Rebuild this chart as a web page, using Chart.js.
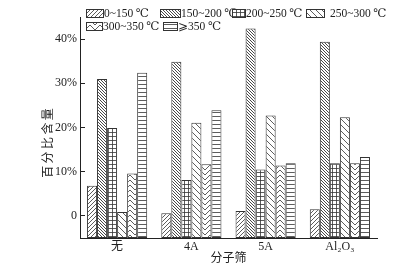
<!DOCTYPE html>
<html><head><meta charset="utf-8">
<script src="https://cdn.jsdelivr.net/npm/chart.js@4/dist/chart.umd.min.js"></script>
<style>html,body{margin:0;padding:0;background:#fff}#wrap{width:404px;height:266px}</style>
</head><body><div id="wrap"><canvas id="c" width="404" height="266"></canvas></div>
<script>
const categories = ['无', '4A', '5A', 'Al₂O₃'];
const seriesLabels = ['0~150 ℃', '150~200 ℃', '200~250 ℃', '250~300 ℃', '300~350 ℃', '⩾350 ℃'];
const s0_150 = [6.8, 0.6, 1.1, 1.5];
const s150_200 = [31.0, 34.9, 42.4, 39.4];
const s200_250 = [19.9, 8.1, 10.5, 11.9];
const s250_300 = [0.9, 21.1, 22.7, 22.3];
const s300_350 = [9.6, 11.7, 11.4, 11.9];
const s350 = [32.4, 23.9, 11.9, 13.3];
const yTicks = [0, 10, 20, 30, 40];
const yTickLabels = ['0', '10%', '20%', '30%', '40%'];
const xTitle = '分子筛';
const yTitle = '百分比含量';

const INK = '#333';
const SERIF = '"Liberation Serif", "DejaVu Serif", "Noto Sans CJK SC", serif';

function makePattern(kind) {
  const c = document.createElement('canvas');
  let w = 4, h = 4;
  if (kind === 'fwd') { w = h = 4; }
  if (kind === 'back') { w = h = 3; }
  if (kind === 'sparse') { w = h = 6; }
  if (kind === 'grid') { w = h = 4; }
  if (kind === 'hl') { w = 4; h = 4; }
  if (kind === 'chev') { w = 10; h = 5; }
  c.width = w; c.height = h;
  const g = c.getContext('2d');
  g.fillStyle = '#fff'; g.fillRect(0, 0, w, h);
  g.strokeStyle = INK; g.lineWidth = kind === 'back' ? 0.9 : 0.8;
  g.beginPath();
  if (kind === 'fwd') {
    for (const k of [-w, 0, w]) { g.moveTo(k, h); g.lineTo(k + w, 0); }
  } else if (kind === 'back' || kind === 'sparse') {
    for (const k of [-w, 0, w]) { g.moveTo(k, 0); g.lineTo(k + w, h); }
  } else if (kind === 'grid') {
    g.moveTo(0.5, 0); g.lineTo(0.5, h); g.moveTo(0, 0.5); g.lineTo(w, 0.5);
  } else if (kind === 'hl') {
    g.moveTo(0, 0.5); g.lineTo(w, 0.5);
  } else if (kind === 'chev') {
    for (const k of [-h, 0, h]) { g.moveTo(0, k); g.lineTo(w / 2, k + h); g.lineTo(w, k); }
  }
  g.stroke();
  const ctx = document.getElementById('c').getContext('2d');
  return ctx.createPattern(c, 'repeat');
}

const patterns = [makePattern('fwd'), makePattern('back'), makePattern('grid'),
                  makePattern('sparse'), makePattern('chev'), makePattern('hl')];
const seriesData = [s0_150, s150_200, s200_250, s250_300, s300_350, s350];

const datasets = seriesData.map((d, i) => ({
  label: seriesLabels[i],
  data: d,
  base: -5,
  backgroundColor: patterns[i],
  borderColor: INK,
  borderWidth: 1,
  borderSkipped: false,
  categoryPercentage: 0.81,
  barPercentage: 1.0
}));

const legendPos = [
  {x: 86, y: 9, w: 17, tx: 104},
  {x: 160, y: 9, w: 20, tx: 181},
  {x: 232, y: 9, w: 13, tx: 246},
  {x: 306, y: 9, w: 18, tx: 330},
  {x: 86, y: 22, w: 16, tx: 103},
  {x: 163, y: 22, w: 14, tx: 178}
];

const customLegend = {
  id: 'customLegend',
  afterDraw(chart) {
    const ctx = chart.ctx;
    ctx.save();
    chart.data.datasets.forEach((ds, i) => {
      const p = legendPos[i];
      ctx.fillStyle = ds.backgroundColor;
      ctx.fillRect(p.x, p.y, p.w, 8);
      ctx.strokeStyle = INK; ctx.lineWidth = 1;
      ctx.strokeRect(p.x + 0.5, p.y + 0.5, p.w, 8);
      ctx.fillStyle = '#222';
      ctx.font = '11.5px ' + SERIF;
      ctx.textBaseline = 'middle';
      ctx.textAlign = 'left';
      ctx.fillText(ds.label, p.tx, p.y + 5);
    });
    // y axis title
    ctx.translate(47, 143);
    ctx.rotate(-Math.PI / 2);
    ctx.font = '12px "Noto Sans CJK SC", sans-serif';
    ctx.textAlign = 'center';
    ctx.textBaseline = 'middle';
    ctx.fillStyle = '#222';
    ctx.fillText(yTitle.split('').join('\u2009'), 0, 0);
    ctx.restore();
  }
};

new Chart(document.getElementById('c'), {
  type: 'bar',
  data: { labels: categories, datasets },
  options: {
    responsive: false,
    animation: false,
    devicePixelRatio: 1,
    layout: { padding: { top: 17, right: 27, bottom: 0, left: 0 } },
    plugins: { legend: { display: false }, tooltip: { enabled: false } },
    scales: {
      x: {
        grid: { display: true, drawOnChartArea: false, drawTicks: false },
        border: { display: true, color: '#222', width: 1 },
        ticks: { color: '#222', font: { family: SERIF, size: 12 }, padding: 2, maxRotation: 0 },
        title: { display: true, text: xTitle, color: '#222',
                 font: { family: '"Noto Sans CJK SC", sans-serif', size: 12 }, padding: { top: 0, bottom: 1 } },
        afterFit(scale) { scale.height = 28; }
      },
      y: {
        min: -5, max: 45,
        afterBuildTicks(scale) { scale.ticks = yTicks.map(v => ({ value: v })); },
        grid: { display: true, drawOnChartArea: false, tickLength: -5, color: '#222' },
        border: { display: true, color: '#222', width: 1 },
        ticks: { color: '#222', font: { family: SERIF, size: 12 }, padding: 8,
                 callback: (v) => { const i = yTicks.indexOf(v); return i >= 0 ? yTickLabels[i] : ''; } },
        afterFit(scale) { scale.width = 80; }
      }
    }
  },
  plugins: [customLegend]
});
</script>
</body></html>
